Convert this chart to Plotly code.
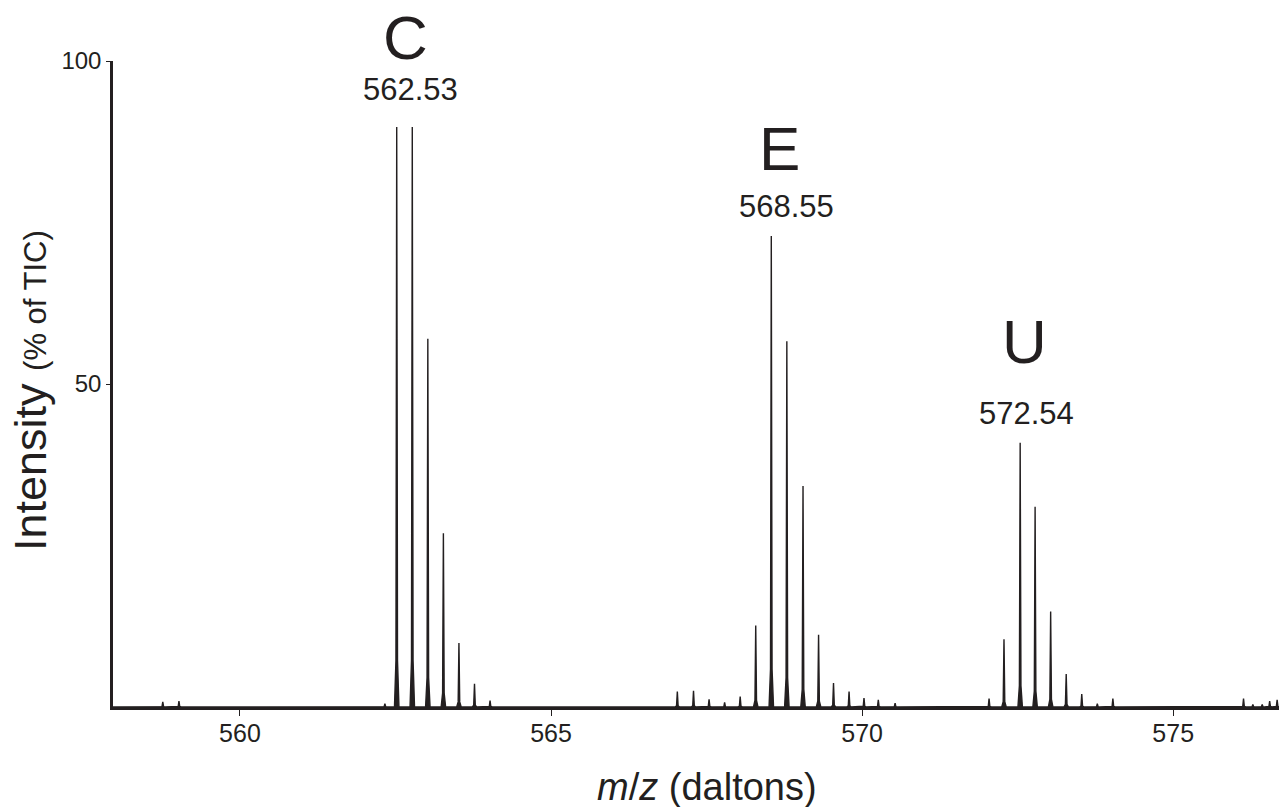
import plotly.graph_objects as go

# ---- data ----
peak_mz = [558.76, 559.02, 562.33,
           562.52, 562.77, 563.02, 563.27, 563.52, 563.77, 564.02,
           567.03, 567.29, 567.54, 567.79, 568.04, 568.29, 568.54, 568.79,
           569.05, 569.30, 569.54, 569.79, 570.03, 570.26, 570.53,
           572.04, 572.28, 572.54, 572.78, 573.03, 573.28, 573.53, 573.78, 574.03,
           576.13, 576.28, 576.43, 576.55, 576.67]
peak_int = [0.8, 0.9, 0.5,
            89.8, 89.8, 57.0, 26.9, 9.9, 3.6, 1.0,
            2.4, 2.5, 1.2, 0.7, 1.6, 12.6, 72.9, 56.6,
            34.2, 11.2, 3.7, 2.4, 1.4, 1.1, 0.6,
            1.3, 10.5, 40.9, 31.0, 14.8, 5.1, 2.0, 0.5, 1.3,
            1.3, 0.4, 0.4, 0.9, 1.1]

cluster_letters = ["C", "E", "U"]
cluster_labels = ["562.53", "568.55", "572.54"]
cluster_peak_mz = [562.52, 568.54, 572.54]

x_ticks = [560, 565, 570, 575]
y_ticks = [50, 100]
x_range = [557.96, 576.70]
y_range = [0, 100]

# ---- styles ----
INK = "#231f20"
FONT = "Liberation Sans, Arial, Helvetica, sans-serif"
HALF_W = 0.036          # half base width of a spike (m/z units)
letter_shift = [(9, 89), (8.7, 88), (4, 101)]
label_shift = [(13.6, 37), (15.7, 30), (6, 29)]

# build spike outlines from the peak list
xs, ys = [x_range[0]], [0]
for m, h in zip(peak_mz, peak_int):
    xs += [m - HALF_W, m - HALF_W * 0.35, m, m + HALF_W * 0.35, m + HALF_W]
    ys += [0, h * 0.08, h, h * 0.08, 0]
xs.append(x_range[1])
ys.append(0)

fig = go.Figure()
fig.add_trace(go.Scatter(
    x=xs, y=ys, mode="lines",
    line=dict(color=INK, width=1.4),
    fill="tozeroy", fillcolor=INK,
    hoverinfo="skip", showlegend=False,
))

height_of = dict(zip(peak_mz, peak_int))
annotations = []
for i, (let, lab, m) in enumerate(zip(cluster_letters, cluster_labels, cluster_peak_mz)):
    h = height_of[m]
    annotations.append(dict(
        x=m, y=h, xref="x", yref="y", text=let, showarrow=False,
        xanchor="center", yanchor="middle",
        xshift=letter_shift[i][0], yshift=letter_shift[i][1],
        font=dict(family=FONT, size=62, color=INK)))
    annotations.append(dict(
        x=m, y=h, xref="x", yref="y", text=lab, showarrow=False,
        xanchor="center", yanchor="middle",
        xshift=label_shift[i][0], yshift=label_shift[i][1],
        font=dict(family=FONT, size=31, color=INK)))

# axis titles as annotations for exact placement
annotations.append(dict(
    x=(707 - 113) / 1166, y=-80 / 646, xref="paper", yref="paper",
    text="<i>m</i>/<i>z</i> (daltons)", showarrow=False,
    xanchor="center", yanchor="middle",
    font=dict(family=FONT, size=38, color=INK)))
annotations.append(dict(
    x=(30 - 113) / 1166, y=(707 - 391) / 646, xref="paper", yref="paper",
    text="Intensity <span style='font-size:31px'>(% of TIC)</span>",
    textangle=-90, showarrow=False,
    xanchor="center", yanchor="middle",
    font=dict(family=FONT, size=45, color=INK)))

fig.update_layout(
    width=1279, height=807,
    margin=dict(l=113, r=0, t=61, b=100),
    paper_bgcolor="white", plot_bgcolor="white",
    annotations=annotations,
    font=dict(family=FONT, color=INK),
)
fig.update_xaxes(
    range=x_range, tickvals=x_ticks, ticktext=[str(v) for v in x_ticks],
    showgrid=False, zeroline=False,
    showline=True, linecolor=INK, linewidth=2.5,
    ticks="outside", ticklen=6, tickwidth=1, tickcolor=INK,
    ticklabelstandoff=-4,
    tickfont=dict(family=FONT, size=25, color=INK),
)
fig.update_yaxes(
    range=y_range, tickvals=y_ticks, ticktext=[str(v) for v in y_ticks],
    showgrid=False, zeroline=False,
    showline=True, linecolor=INK, linewidth=2.5,
    ticks="outside", ticklen=4, tickwidth=1, tickcolor=INK,
    tickfont=dict(family=FONT, size=24, color=INK),
)

fig.write_html(
    "out.html",
    config={"displayModeBar": False},
    post_script="document.body.style.margin='0';document.body.style.overflow='hidden';",
)
